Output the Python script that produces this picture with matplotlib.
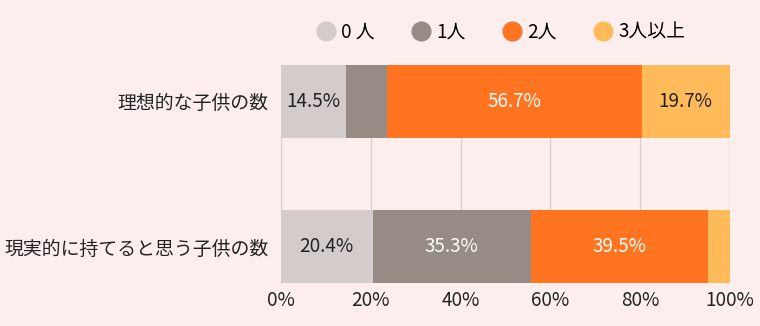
import matplotlib.pyplot as plt
from matplotlib.lines import Line2D

plt.rcParams['font.family'] = ['Noto Sans CJK JP', 'DejaVu Sans']

# ---------------- DATA ----------------
categories = ["理想的な子供の数", "現実的に持てると思う子供の数"]
series_names = ["0 人", "1人", "2人", "3人以上"]
zero = [14.5, 20.4]
one = [9.1, 35.3]
two = [56.7, 39.5]
three = [19.7, 4.8]
show_label = [[True, True], [False, True], [True, True], [True, False]]
xticks = [0, 20, 40, 60, 80, 100]

colors = ["#d3cccb", "#978b85", "#fe7421", "#ffbb5a"]
text_colors = ["#222222", "#ffffff", "#ffffff", "#222222"]
bg = "#fdeeee"
fs = 13.6

fig = plt.figure(figsize=(7.6, 3.26), dpi=100, facecolor=bg)
ax = fig.add_axes([0.3697, 0.132, 0.5908, 0.669])
ax.set_facecolor(bg)

y = [0, 1]
left = [0, 0]
for i, vals in enumerate([zero, one, two, three]):
    ax.barh(y, vals, left=left, height=0.5, color=colors[i], zorder=3)
    for j, v in enumerate(vals):
        if show_label[i][j]:
            ax.text(left[j] + v / 2, y[j], f"{v}%", ha="center", va="center",
                    fontsize=fs, color=text_colors[i], zorder=4)
    left = [l + v for l, v in zip(left, vals)]

ax.set_xlim(0, 100)
ax.set_ylim(1.25, -0.25)
ax.set_yticks(y)
ax.set_yticklabels(categories, fontsize=fs, color="#222222")
ax.set_xticks(xticks)
ax.set_xticklabels([f"{t}%" for t in xticks], fontsize=fs, color="#222222")
ax.tick_params(length=0, pad=9)
ax.tick_params(axis="x", pad=5)
ax.grid(axis="x", color="#d8d0d0", linewidth=1, zorder=0)
for s in ["top", "right", "bottom"]:
    ax.spines[s].set_visible(False)
ax.spines["left"].set_color("#d8d0d0")

handles = [Line2D([], [], marker="o", linestyle="", markersize=13.5,
                  markerfacecolor=c, markeredgecolor=c) for c in colors]
fig.legend(handles, series_names, loc="center", bbox_to_anchor=(0.658, 0.902),
           ncol=4, frameon=False, fontsize=fs, handletextpad=0.2,
           columnspacing=1.85, handlelength=1.2)

fig.savefig("out.png", dpi=100, facecolor=bg)
